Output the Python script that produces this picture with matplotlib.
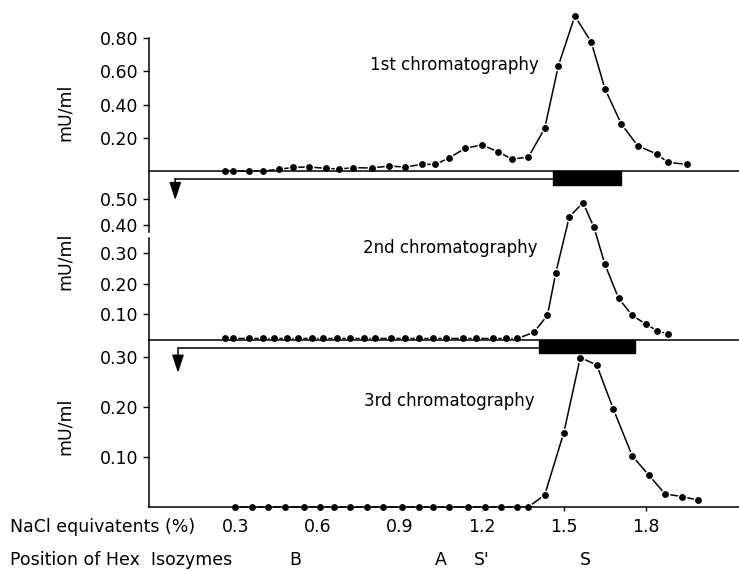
# Hex isozyme chromatography profiles (1st, 2nd, 3rd run)

import numpy as np
import matplotlib
matplotlib.use('Agg')
import matplotlib.pyplot as plt
from matplotlib.transforms import blended_transform_factory
from matplotlib.patches import Rectangle
from matplotlib.ticker import FormatStrFormatter

# 1st chromatography: NaCl equivalents (%) vs activity (mU/ml)
x1 = [0.26, 0.29, 0.35, 0.40, 0.46, 0.51, 0.57, 0.63, 0.68, 0.73, 0.80,
      0.86, 0.92, 0.98, 1.03, 1.08, 1.14, 1.20, 1.26, 1.31, 1.37, 1.43,
      1.48, 1.54, 1.60, 1.65, 1.71, 1.77, 1.84, 1.88, 1.95]
y1 = [0.0, 0.0, 0.0, 0.0, 0.010, 0.022, 0.024, 0.016, 0.012, 0.020, 0.018,
      0.030, 0.024, 0.040, 0.040, 0.078, 0.137, 0.157, 0.116, 0.072, 0.083,
      0.257, 0.635, 0.934, 0.778, 0.496, 0.283, 0.152, 0.102, 0.052, 0.040]

# 2nd chromatography
x2 = [0.26, 0.29, 0.35, 0.40, 0.44, 0.49, 0.53, 0.58, 0.62, 0.67, 0.72,
      0.77, 0.81, 0.87, 0.92, 0.97, 1.02, 1.07, 1.13, 1.18, 1.24, 1.29,
      1.33, 1.39, 1.44, 1.47, 1.52, 1.57, 1.61, 1.65, 1.70, 1.75, 1.80,
      1.84, 1.88]
y2 = [0.02] * 23 + [0.040, 0.096, 0.234, 0.433, 0.487, 0.392, 0.264,
                    0.152, 0.096, 0.067, 0.046, 0.035]

# 3rd chromatography
x3 = [0.30, 0.36, 0.42, 0.48, 0.55, 0.61, 0.66, 0.72, 0.78, 0.84, 0.91,
      0.97, 1.02, 1.08, 1.15, 1.21, 1.27, 1.33, 1.37, 1.43, 1.50, 1.56,
      1.62, 1.68, 1.75, 1.81, 1.87, 1.93, 1.99]
y3 = [0.0] * 19 + [0.024, 0.149, 0.299, 0.284, 0.197, 0.102, 0.064,
                   0.026, 0.021, 0.014]

# pooled fractions (black bars) re-applied to the next column
pool1 = [1.46, 1.71]
pool2 = [1.41, 1.76]
arrow_x = [0.08, 0.09]

nacl_ticks = [0.3, 0.6, 0.9, 1.2, 1.5, 1.8]
iso_names = ['B', 'A', "S'", 'S']
iso_pos = [0.52, 1.05, 1.20, 1.58]

yt1 = [0.20, 0.40, 0.60, 0.80]
yt2 = [0.10, 0.20, 0.30, 0.40, 0.50]
yt3 = [0.10, 0.20, 0.30]

labels = ['1st chromatography', '2nd chromatography', '3rd chromatography']

plt.rcParams['font.family'] = 'DejaVu Sans'

W, H = 739, 571
fig = plt.figure(figsize=(W / 100, H / 100), dpi=100)

def px_axes(top, bottom):
    return fig.add_axes([149 / W, (H - bottom) / H, 590 / W, (bottom - top) / H])

ax1 = px_axes(38.3, 171)
ax2 = px_axes(171, 340)
ax3 = px_axes(340, 507)

# broken scale for the 2nd panel (compressed above 0.35)
def fwd(y):
    y = np.asarray(y, dtype=float)
    return np.where(y <= 0.35, y, 0.35 + (y - 0.35) * 0.85)

def inv(u):
    u = np.asarray(u, dtype=float)
    return np.where(u <= 0.35, u, 0.35 + (u - 0.35) / 0.85)

ax2.set_yscale('function', functions=(fwd, inv))

def draw(ax, x, y):
    ax.plot(x, y, '-', color='k', lw=1.1, clip_on=False, zorder=2)
    ax.plot(x, y, 'o', ms=7, mfc='white', mec='none', clip_on=False, zorder=2.2)
    ax.plot(x, y, 'o', ms=3.9, color='k', mec='k', clip_on=False, zorder=3)

for ax, x, y, yt in [(ax1, x1, y1, yt1), (ax2, x2, y2, yt2), (ax3, x3, y3, yt3)]:
    draw(ax, x, y)
    ax.set_xlim(-0.016, 2.14)
    ax.set_yticks(yt)
    ax.yaxis.set_major_formatter(FormatStrFormatter('%.2f'))
    ax.yaxis.set_minor_locator(plt.NullLocator())
    ax.spines['top'].set_visible(False)
    ax.spines['right'].set_visible(False)
    for s in ax.spines.values():
        s.set_linewidth(1.1)
    ax.tick_params(axis='y', direction='out', length=4.5, width=1.0,
                   labelsize=12.5, pad=3)
    ax.patch.set_alpha(0)

ax1.set_ylim(0, 0.80)
ax2.set_ylim(0.015, 0.61)
ax3.set_ylim(0, 0.334)

for ax in (ax1, ax2):
    ax.tick_params(axis='x', length=0, labelbottom=False)

ax3.set_xticks(nacl_ticks)
ax3.set_xticklabels(['%.1f' % t for t in nacl_ticks])
ax3.tick_params(axis='x', direction='out', length=3, width=1.0,
                labelsize=12.5, pad=5)

# gap in the left axis of the 2nd panel
ax2.spines['left'].set_visible(False)
ax2.plot([0, 0], [0, 0.602], color='k', lw=1.1, transform=ax2.transAxes, clip_on=False)
ax2.plot([0, 0], [0.641, 1], color='k', lw=1.1, transform=ax2.transAxes, clip_on=False)

# pooled fraction bars and arrows back to the start of the next run
for ax, pool, ax0, bar_h, line_y, tip_y in [(ax2, pool1, arrow_x[0], 0.083, 0.953, 0.828),
                                            (ax3, pool2, arrow_x[1], 0.078, 0.95, 0.804)]:
    tr = blended_transform_factory(ax.transData, ax.transAxes)
    ax.add_patch(Rectangle((pool[0], 1 - bar_h), pool[1] - pool[0], bar_h,
                           transform=tr, color='k', clip_on=False, zorder=3))
    ax.plot([ax0, pool[0]], [line_y, line_y], color='k', lw=1.1,
            transform=tr, clip_on=False)
    ax.annotate('', xy=(ax0, tip_y), xytext=(ax0, line_y),
                xycoords=tr, textcoords=tr,
                arrowprops=dict(arrowstyle='-|>,head_length=0.9,head_width=0.3',
                                color='k', lw=1.1, shrinkA=0, shrinkB=0,
                                mutation_scale=12))

ax1.text(0.79, 0.64, labels[0], fontsize=12, va='center')
ax2.text(0.765, 0.318, labels[1], fontsize=12, va='center')
ax3.text(0.77, 0.212, labels[2], fontsize=12, va='center')

for yc in [112, 261, 426]:
    fig.text(65 / W, 1 - yc / H, 'mU/ml', rotation=90, ha='center',
             va='center', fontsize=12.5)

fig.text(10 / W, 1 - 527 / H, 'NaCl equivatents (%)', fontsize=12.5, va='center')
fig.text(10 / W, 1 - 560 / H, 'Position of Hex  Isozymes', fontsize=12.5, va='center')
tr_iso = blended_transform_factory(ax3.transData, fig.transFigure)
for name, pos in zip(iso_names, iso_pos):
    fig.text(pos, 1 - 560 / H, name, transform=tr_iso, fontsize=12.5,
             ha='center', va='center')

fig.savefig('out.png', dpi=100)
